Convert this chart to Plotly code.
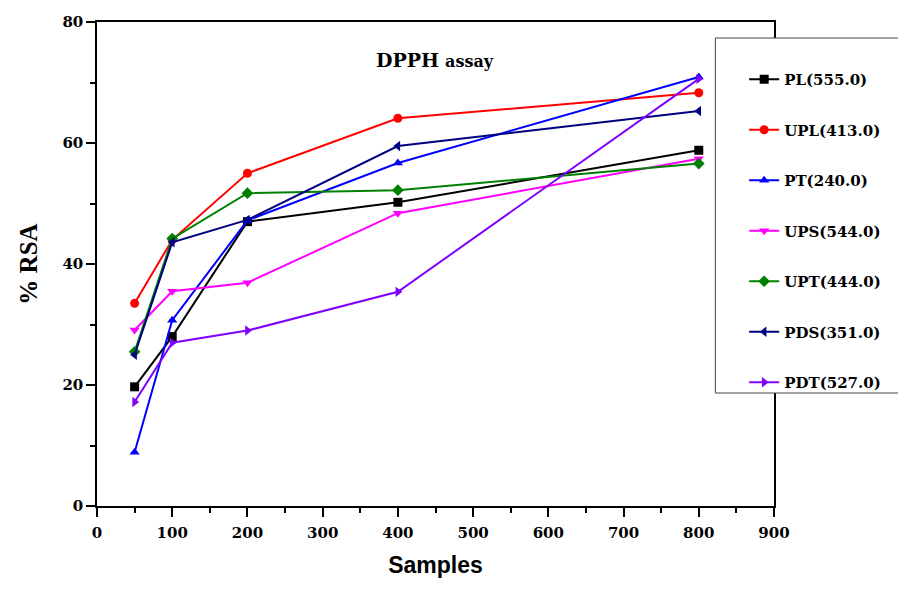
import plotly.graph_objects as go

# Sample amounts on the x axis
samples = [50, 100, 200, 400, 800]

# % radical scavenging activity for each extract
pl = [19.7, 28.0, 47.0, 50.2, 58.8]
upl = [33.5, 44.0, 55.0, 64.1, 68.3]
pt = [8.9, 30.7, 47.2, 56.7, 70.9]
ups = [29.1, 35.5, 36.9, 48.4, 57.4]
upt = [25.5, 44.2, 51.7, 52.2, 56.6]
pds = [25.0, 43.6, 47.3, 59.5, 65.3]
pdt = [17.2, 27.0, 29.0, 35.4, 70.6]

names = ["PL(555.0)", "UPL(413.0)", "PT(240.0)", "UPS(544.0)",
         "UPT(444.0)", "PDS(351.0)", "PDT(527.0)"]
series = [pl, upl, pt, ups, upt, pds, pdt]
colors = ["#000000", "#FF0000", "#0000FF", "#FF00FF",
          "#008000", "#000080", "#8000FF"]
symbols = ["square", "circle", "triangle-up", "triangle-down",
           "diamond", "triangle-left", "triangle-right"]

x_ticks = list(range(0, 901, 100))
y_ticks = list(range(0, 81, 20))

serif = "DejaVu Serif"

fig = go.Figure()
for i, (name, ys, col, sym) in enumerate(zip(names, series, colors, symbols)):
    fig.add_trace(go.Scatter(
        x=samples, y=ys, name=name, mode="lines+markers",
        legendgroup=f"g{i}",
        line=dict(color=col, width=2),
        marker=dict(symbol=sym, size=9, color=col),
    ))

axis_common = dict(
    showline=True, linecolor="black", linewidth=1.5, mirror=True,
    ticks="outside", tickcolor="black", tickwidth=1.5, ticklen=9,
    showgrid=False, zeroline=False, automargin=False,
    tickfont=dict(family=serif, size=15, color="black", weight="bold"),
)

fig.update_xaxes(
    range=[0, 900], tickvals=x_ticks, ticklabelstandoff=3,
    minor=dict(dtick=50, ticks="outside", ticklen=5, tickcolor="black", tickwidth=1.5),
    title=dict(text="<b>Samples</b>", font=dict(family="Liberation Sans", size=23, color="black"),
               standoff=16),
    **axis_common,
)
fig.update_yaxes(
    range=[0, 80], tickvals=y_ticks,
    minor=dict(dtick=10, ticks="outside", ticklen=5, tickcolor="black", tickwidth=1.5),
    title=dict(text="<b>% RSA</b>", font=dict(family="Liberation Serif", size=25, color="black"),
               standoff=18),
    **axis_common,
)

# Legend frame
fig.add_shape(type="rect", xref="paper", yref="paper",
              x0=(719 - 97) / 681, x1=1.2, y0=(506 - 393) / 484, y1=(506 - 38) / 484,
              fillcolor="white", line=dict(color="#444444", width=1), layer="above")

fig.add_annotation(
    text="<b>DPPH</b> <span style='font-size:16px'><b>assay</b></span>",
    xref="paper", yref="paper",
    x=(437 - 97) / 681, y=(506 - 47) / 484, showarrow=False,
    font=dict(family=serif, size=19, color="black"))

fig.update_layout(
    width=898, height=593,
    margin=dict(l=97, r=120, t=22, b=87),
    paper_bgcolor="white", plot_bgcolor="white",
    showlegend=True,
    legend=dict(
        x=(748 - 97) / 681, xanchor="left",
        y=(506 - 63) / 484, yanchor="top",
        bgcolor="rgba(0,0,0,0)", borderwidth=0,
        tracegroupgap=28,
        font=dict(family=serif, size=15, color="black", weight="bold"),
    ),
)

fig.write_html("out.html")
